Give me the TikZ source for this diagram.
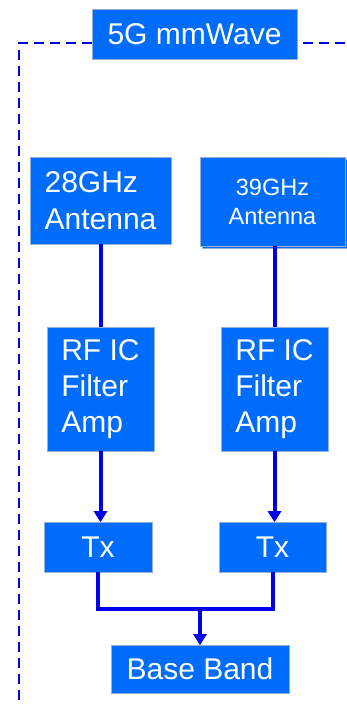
\documentclass[tikz,border=0pt]{standalone}
\usepackage{fontspec}
\setmainfont{Liberation Sans}
\usetikzlibrary{arrows.meta,shadows,backgrounds}
\definecolor{boxblue}{RGB}{0,108,252}
\definecolor{lineblue}{RGB}{0,0,235}
\definecolor{edgegray}{RGB}{150,175,215}
\tikzset{
  blk/.style={rectangle, fill=boxblue, draw=edgegray, line width=0.6pt,
    text=white, inner sep=0pt, font=\fontsize{30}{37}\selectfont},
  conn/.style={draw=lineblue, line width=4pt},
  arr/.style={conn, -{Triangle[length=11pt,width=13pt]}, shorten >=-0.5pt},
  frame/.style={draw=lineblue, line width=2.6pt, dash pattern=on 10pt off 6pt}
}
\begin{document}
\begin{tikzpicture}[x=1pt,y=-1pt]
\useasboundingbox (0,0) rectangle (346,704);
% frame and title
\node[blk, minimum width=205pt, minimum height=50pt] (title) at (194.5,34) {5G mmWave};
\coordinate (fc) at (19,43);
\coordinate (fb) at (19,704);
\coordinate (fr) at (346,43);
\coordinate (fe) at (303,43);
\begin{scope}[on background layer]
\draw[frame] (title.west |- fc) -- (fc) -- (fb);
\draw[frame] (fe) -- (fr);
\end{scope}
% antennas
\node[blk, minimum width=141pt, minimum height=87pt, align=left] (a28) at (100.5,200.5) {28GHz\\Antenna};
\node[blk, minimum width=145pt, minimum height=89pt, align=center,
  font=\fontsize{23.5}{29}\selectfont,
  copy shadow={shadow xshift=2pt, shadow yshift=-2pt, fill=boxblue, draw=edgegray}]
  (a39) at (272.5,201.5) {39GHz\\Antenna};
% RF
\node[blk, minimum width=107pt, minimum height=124pt, align=left,
  font=\fontsize{30}{36}\selectfont] (rf1) at (100.5,389) {RF IC\\Filter\\Amp};
\node[blk, minimum width=107pt, minimum height=124pt, align=left,
  font=\fontsize{30}{36}\selectfont] (rf2) at (274.5,389) {RF IC\\Filter\\Amp};
% Tx
\node[blk, minimum width=108pt, minimum height=50pt] (tx1) at (98,547) {Tx};
\node[blk, minimum width=107pt, minimum height=50pt] (tx2) at (272.5,547) {Tx};
% base band
\node[blk, minimum width=178pt, minimum height=48pt] (bb) at (200,669) {Base Band};
% connectors
\draw[conn] (a28.south) -- (rf1.north -| a28.south);
\draw[conn] (rf2.north) -- (rf2.north |- a39.south);
\draw[arr] (rf1.south) -- (rf1.south |- tx1.north);
\draw[arr] (rf2.south) -- (rf2.south |- tx2.north);
\coordinate (j) at (200,609);
\draw[conn, line join=miter] (tx1.south) |- (j) -| (tx2.south);
\draw[arr] (j) -- (bb.north);
\end{tikzpicture}
\end{document}
